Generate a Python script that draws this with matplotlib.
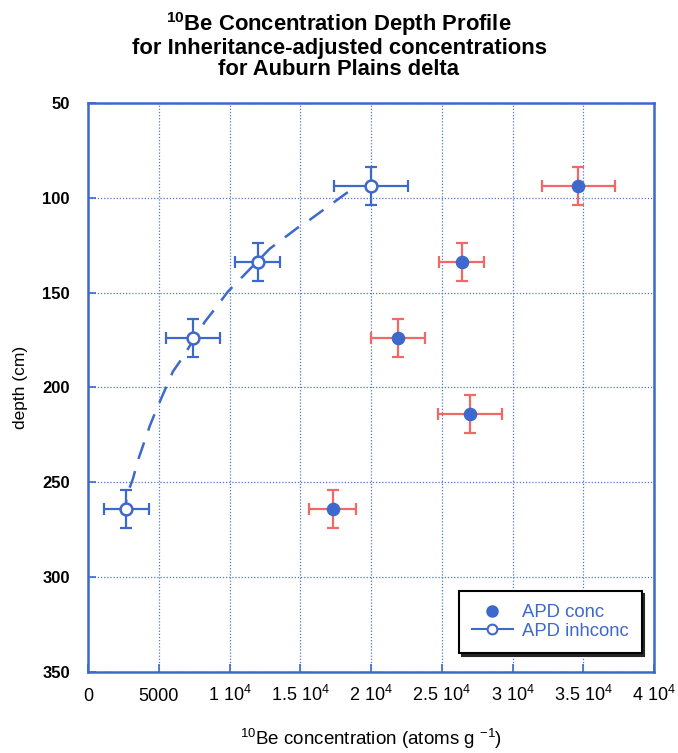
import matplotlib.pyplot as plt
from matplotlib.lines import Line2D

plt.rcParams["font.family"] = ["Liberation Sans", "DejaVu Sans"]
plt.rcParams["mathtext.fontset"] = "custom"
plt.rcParams["mathtext.rm"] = "Liberation Sans"
plt.rcParams["mathtext.it"] = "Liberation Sans:italic"
plt.rcParams["mathtext.bf"] = "Liberation Sans:bold"

# 10Be concentrations (atoms/g) and sample depths (cm)
conc = [34650, 26400, 21900, 27000, 17300]
conc_depth = [94, 134, 174, 214, 264]
conc_xerr = [2600, 1600, 1900, 2250, 1650]
conc_yerr = [10, 10, 10, 10, 10]

inh = [20000, 12000, 7400, 2700]
inh_depth = [94, 134, 174, 264]
inh_xerr = [2600, 1600, 1900, 1600]
inh_yerr = [10, 10, 10, 10]

# fitted profile through inheritance-adjusted values
fit_x = [18360, 15670, 14900, 12850, 9880, 9040, 8260, 6640, 6000,
         4870, 4380, 3530, 3180, 2750, 2680]
fit_depth = [97, 111.6, 115.3, 126.8, 149.5, 157.9, 165.3, 184.7, 191.6,
             211, 220, 238.4, 248, 256.8, 261]

xticks = [0, 5000, 10000, 15000, 20000, 25000, 30000, 35000, 40000]
xtick_labels = ["0", "5000", "1 10$^4$", "1.5 10$^4$", "2 10$^4$",
                "2.5 10$^4$", "3 10$^4$", "3.5 10$^4$", "4 10$^4$"]
yticks = [50, 100, 150, 200, 250, 300, 350]

BLUE = "#3d68cc"
RED = "#f06868"

fig = plt.figure(figsize=(6.78, 7.53), dpi=100)
ax = fig.add_axes([0.1298, 0.1076, 0.8348, 0.7556])

ax.plot(fit_x, fit_depth, color=BLUE, lw=1.8, dashes=(7, 5), zorder=2)

ax.errorbar(conc, conc_depth, xerr=conc_xerr, yerr=conc_yerr, fmt="none",
            ecolor=RED, elinewidth=1.6, capsize=4, capthick=1.6, zorder=3)
ax.plot(conc, conc_depth, "o", color=BLUE, ms=8.8, zorder=4)

ax.errorbar(inh, inh_depth, xerr=inh_xerr, yerr=inh_yerr, fmt="none",
            ecolor=BLUE, elinewidth=1.6, capsize=4, capthick=1.6, zorder=3)
ax.plot(inh, inh_depth, "o", mfc="white", mec=BLUE, mew=1.8, ms=8.5,
        zorder=4)

ax.set_xlim(0, 40000)
ax.set_ylim(350, 50)
ax.set_xticks(xticks)
ax.set_xticklabels(xtick_labels)
ax.set_yticks(yticks)
ax.tick_params(direction="in", length=6, width=1.2, color=BLUE)
ax.tick_params(axis="x", labelsize=13, pad=21)
ax.tick_params(axis="y", labelsize=12, pad=13)
for lab in ax.get_xticklabels():
    lab.set_verticalalignment("baseline")
for lab in ax.get_yticklabels():
    lab.set_fontweight("bold")
ax.grid(True, color=BLUE, ls=(0, (1, 1.5)), lw=0.9, alpha=0.9)
for sp in ax.spines.values():
    sp.set_color(BLUE)
    sp.set_linewidth(1.8)

ax.set_xlabel("$^{10}$Be concentration (atoms g $^{-1}$)", fontsize=13.5,
              labelpad=16)
ax.set_ylabel("depth (cm)", fontsize=12.5, labelpad=10)

fig.text(0.5, 0.987,
         "$^{\\mathbf{10}}$Be Concentration Depth Profile\n"
         "for Inheritance-adjusted concentrations\n"
         "for Auburn Plains delta",
         ha="center", va="top", fontsize=15.8, fontweight="bold",
         linespacing=1.0)

handles = [
    Line2D([], [], ls="none", marker="o", color=BLUE, ms=8),
    Line2D([], [], color=BLUE, lw=1.5, marker="o", mfc="white", mec=BLUE,
           mew=1.5, ms=7),
]
leg = ax.legend(handles, ["APD conc", "APD inhconc"], loc="lower right",
                bbox_to_anchor=(0.988, 0.024), fontsize=13.3, frameon=True,
                fancybox=False, edgecolor="black", handlelength=2.2,
                borderpad=0.7, labelspacing=0.1, handletextpad=0.5,
                borderaxespad=0.3,
                shadow={"color": "0.15", "alpha": 1})
leg.get_frame().set_linewidth(1.5)
for t in leg.get_texts():
    t.set_color(BLUE)

fig.savefig("out.png", dpi=100)
